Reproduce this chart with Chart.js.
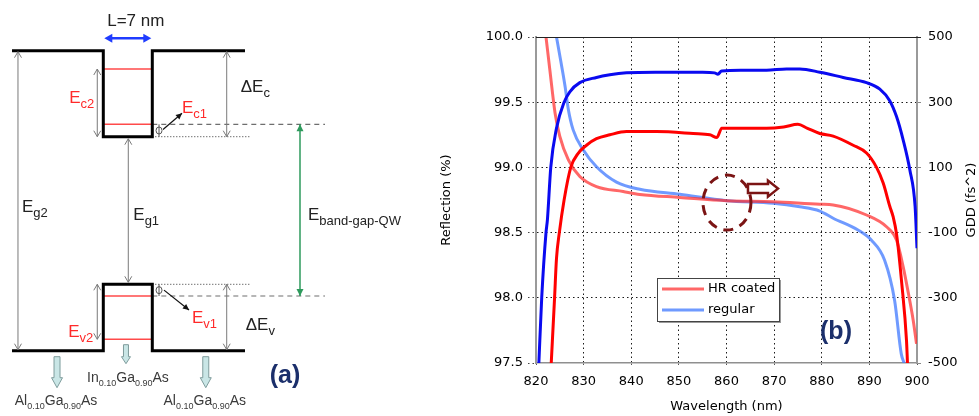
<!DOCTYPE html>
<html>
<head>
<meta charset="utf-8">
<title>Quantum well band diagram and mirror reflection / GDD</title>
<script src="https://cdn.jsdelivr.net/npm/chart.js@4.4.1/dist/chart.umd.min.js"></script>
<style>
  html, body { margin: 0; padding: 0; background: #fff; }
  #wrap { position: relative; width: 979px; height: 416px; overflow: hidden; }
  #bandChart { position: absolute; left: 0; top: 0; }
  #reflChart { position: absolute; left: 430px; top: 0; }
</style>
</head>
<body>
<div id="wrap">
  <canvas id="bandChart" width="430" height="416"></canvas>
  <canvas id="reflChart" width="549" height="416"></canvas>
</div>
<script>
// ---------------- (b) mirror data ----------------
const wlTicks = [820, 830, 840, 850, 860, 870, 880, 890, 900];
const reflTicks = [97.5, 98.0, 98.5, 99.0, 99.5, 100.0];
const gddTicks = [-500, -300, -100, 100, 300, 500];
const seriesNames = ['HR coated', 'regular'];

// reflection (%), left axis
const wlHrRefl = [823.2, 823.9, 824.3, 824.9, 825.9, 827.3, 828.9, 830.6, 832.7, 835.5,
  839, 845.3, 853, 856.5, 858, 859, 868.4, 872, 875, 877, 879.6, 882.4,
  886.6, 889.4, 891.5, 892.9, 894.3, 895.0, 895.7, 896.8, 897.8, 898.0];
const hrRefl = [97.5, 98.0, 98.3, 98.5, 98.75, 99.0, 99.11, 99.17, 99.22, 99.25,
  99.275, 99.275, 99.26, 99.25, 99.23, 99.3, 99.3, 99.31, 99.33, 99.3, 99.26, 99.24,
  99.17, 99.11, 99.0, 98.88, 98.70, 98.62, 98.49, 98.11, 97.67, 97.5];

const wlRegRefl = [820.6, 821.2, 822.1, 822.4, 823.1, 824.3, 825.9, 827.1, 829.2, 832.7,
  835.5, 839, 845, 850, 855, 857.5, 858.2, 859, 863, 868.4,
  872.6, 875.4, 879.6, 884.5, 889.4, 892.2, 894.3, 895.7, 897.1, 898.5, 899.6, 900];
const regRefl = [97.5, 98.0, 98.5, 98.6, 99.0, 99.3, 99.5, 99.58, 99.65, 99.69,
  99.71, 99.725, 99.73, 99.73, 99.73, 99.725, 99.715, 99.74, 99.745, 99.745,
  99.755, 99.755, 99.73, 99.69, 99.65, 99.6, 99.51, 99.39, 99.21, 98.98, 98.70, 98.38];

// GDD (fs^2), right axis
const wlHrGdd = [822.1, 822.9, 824.0, 825.0, 826.8, 829.2, 832.7, 838.3, 841.8, 850.2,
  860.1, 869.8, 879.6, 882.4, 889.4, 893.6, 895.7, 897.1, 898.2, 899.2, 899.9];
const hrGdd = [500, 400, 267, 195, 123, 72, 41, 26, 17, 8,
  -2, -5, -13, -15, -46, -82, -123, -205, -287, -369, -441];

const wlRegGdd = [824.3, 824.9, 826.1, 826.8, 827.8, 829.9, 832.7, 836.9, 841.8, 850.2,
  860.1, 869.8, 875.4, 879.6, 882.4, 887.6, 890.4, 893.2, 895.3, 896.7, 897.3];
const regGdd = [500, 451, 349, 277, 215, 154, 102, 55, 33, 17.5,
  -2, -10, -21, -34, -56, -92, -123, -185, -308, -472, -500];

// ---------------- (a) band diagram data ----------------
// x in nm (0 = left wall of the 7 nm well), energy in arbitrary units
const bandX = [-13.04, 0, 0, 7, 7, 20.24];
const condBand = [1500, 1500, 1070, 1070, 1500, 1500];
const valBand = [0, 0, 332, 332, 0, 0];
const levelNames = ['Ec1', 'Ec2', 'Ev1', 'Ev2'];
const levelValues = [1132, 1408.5, 273.5, 57];
const materials = ['Al0.10Ga0.90As', 'In0.10Ga0.90As', 'Al0.10Ga0.90As'];

const SANS = '"Liberation Sans", Arial, sans-serif';
const VERA = '"DejaVu Sans", Verdana, sans-serif';
const NAVY = '#1b2f6b';

const toXY = (xs, ys) => xs.map((v, i) => ({ x: v, y: ys[i] }));
const seg = (x1, x2, v) => [{ x: x1, y: v }, { x: x2, y: v }];

// arrow head, tip at (tx,ty), pointing along (ux,uy)
function head(ctx, tx, ty, ux, uy, len, half, filled) {
  const bx = tx - ux * len, by = ty - uy * len;
  const nx = -uy, ny = ux;
  ctx.beginPath();
  ctx.moveTo(bx + nx * half, by + ny * half);
  ctx.lineTo(tx, ty);
  ctx.lineTo(bx - nx * half, by - ny * half);
  if (filled) { ctx.closePath(); ctx.fill(); } else { ctx.stroke(); }
}

function vArrow(ctx, X, yA, yB, color, width, len, half, filled) {
  ctx.strokeStyle = color; ctx.fillStyle = color; ctx.lineWidth = width;
  ctx.beginPath(); ctx.moveTo(X, yA); ctx.lineTo(X, yB); ctx.stroke();
  ctx.lineWidth = 1;
  head(ctx, X, yA, 0, -1, len, half, filled);
  head(ctx, X, yB, 0, 1, len, half, filled);
}

function pointer(ctx, x1, y1, x2, y2) {
  const d = Math.hypot(x2 - x1, y2 - y1);
  ctx.strokeStyle = '#111'; ctx.fillStyle = '#111'; ctx.lineWidth = 1.2;
  ctx.beginPath(); ctx.moveTo(x1, y1); ctx.lineTo(x2, y2); ctx.stroke();
  head(ctx, x2, y2, (x2 - x1) / d, (y2 - y1) / d, 6, 3, true);
}

// text made of [string, isSubscript] parts
function rich(ctx, parts, x, y, align, color, size, subSize) {
  let w = 0;
  parts.forEach(([t, s]) => { ctx.font = (s ? subSize : size) + 'px ' + SANS; w += ctx.measureText(t).width; });
  let cx = align === 'center' ? x - w / 2 : align === 'right' ? x - w : x;
  ctx.fillStyle = color; ctx.textAlign = 'left'; ctx.textBaseline = 'alphabetic';
  parts.forEach(([t, s]) => {
    ctx.font = (s ? subSize : size) + 'px ' + SANS;
    ctx.fillText(t, cx, s ? y + Math.round(subSize * 0.4) : y);
    cx += ctx.measureText(t).width;
  });
}

function hollowDown(ctx, X, top, headTop, tip, shaftHalf, headHalf) {
  ctx.beginPath();
  ctx.moveTo(X - shaftHalf, top); ctx.lineTo(X + shaftHalf, top);
  ctx.lineTo(X + shaftHalf, headTop); ctx.lineTo(X + headHalf, headTop);
  ctx.lineTo(X, tip); ctx.lineTo(X - headHalf, headTop);
  ctx.lineTo(X - shaftHalf, headTop); ctx.closePath();
  ctx.fillStyle = '#c9e6e6'; ctx.fill();
  ctx.strokeStyle = '#7f9c9c'; ctx.lineWidth = 1; ctx.stroke();
}

function matParts(name) {
  // split "Al0.10Ga0.90As" into element / subscript parts
  return name.match(/[A-Z][a-z]?|[0-9.]+/g).map(t => [t, /[0-9]/.test(t)]);
}

const bandDecor = {
  id: 'bandDecor',
  afterDatasetsDraw(chart) {
    const { ctx, scales: { x, y } } = chart;
    const px = v => x.getPixelForValue(v), py = v => y.getPixelForValue(v);
    const cB = py(condBand[0]), cW = py(condBand[2]);
    const vB = py(valBand[0]), vW = py(valBand[2]);
    const ec1 = py(levelValues[0]), ec2 = py(levelValues[1]);
    const ev1 = py(levelValues[2]), ev2 = py(levelValues[3]);
    const wallL = px(0), wallR = px(7);
    ctx.save();

    // gray double arrows
    const gray = '#7a7a7a';
    const xEg2 = px(-12.19), xEg1 = px(3.57), xSub = px(-0.86), xDelta = px(17.63);
    vArrow(ctx, xEg2, cB + 1, vB - 1, gray, 1, 6, 3.5, false);
    vArrow(ctx, xEg1, cW + 2, vW - 2, gray, 1, 6, 3.5, false);
    vArrow(ctx, xSub, ec2, cW, gray, 1, 6, 3.5, false);
    vArrow(ctx, xSub, vW, ev2, gray, 1, 6, 3.5, false);
    vArrow(ctx, xDelta, cB + 1, cW, gray, 1, 6, 3.5, false);
    vArrow(ctx, xDelta, vW, vB - 1, gray, 1, 6, 3.5, false);

    // green effective band gap arrow
    vArrow(ctx, px(28.1), ec1, ev1, '#2e9a5c', 1.5, 7, 3.5, true);

    // blue well width arrow
    const yL = py(1562);
    ctx.strokeStyle = '#1f3cff'; ctx.fillStyle = '#1f3cff'; ctx.lineWidth = 2.5;
    ctx.beginPath(); ctx.moveTo(wallL + 5, yL); ctx.lineTo(wallR - 5, yL); ctx.stroke();
    head(ctx, wallL + 1, yL, -1, 0, 8, 4.5, true);
    head(ctx, wallR - 1, yL, 1, 0, 8, 4.5, true);

    // small phi markers
    const xPhi = px(7.96);
    ctx.strokeStyle = '#555'; ctx.lineWidth = 1;
    [[ec1, cW], [vW, ev1]].forEach(([a, b]) => {
      ctx.beginPath(); ctx.moveTo(xPhi, a); ctx.lineTo(xPhi, b); ctx.stroke();
      ctx.beginPath(); ctx.ellipse(xPhi, (a + b) / 2, 3, 3.5, 0, 0, Math.PI * 2); ctx.stroke();
    });

    // level pointers
    pointer(ctx, xPhi + 4, (ec1 + cW) / 2 - 1, xPhi + 23, ec1 - 11);
    pointer(ctx, xPhi + 5, (vW + ev1) / 2, xPhi + 30, ev1 + 14);

    // labels
    const red = '#ff2a2a', ink = '#222';
    rich(ctx, [['L=7 nm', false]], (wallL + wallR) / 2 + 8, 26, 'center', ink, 17, 12);
    rich(ctx, [['E', false], ['g2', true]], xEg2 + 4, 212, 'left', ink, 17, 13);
    rich(ctx, [['E', false], ['g1', true]], xEg1 + 5, 220, 'left', ink, 17, 13);
    rich(ctx, [['E', false], ['band-gap-QW', true]], px(28.1) + 8, 220, 'left', ink, 17, 13);
    rich(ctx, [['E', false], ['c2', true]], xSub - 3, 103, 'right', red, 17, 13);
    rich(ctx, [['E', false], ['v2', true]], xSub - 4, 337, 'right', red, 17, 13);
    rich(ctx, [['\u0394E', false], ['c', true]], xDelta + 14, 92, 'left', ink, 17, 13);
    rich(ctx, [['\u0394E', false], ['v', true]], xDelta + 19, 330, 'left', ink, 17, 13);
    rich(ctx, [['E', false], ['c1', true]], xPhi + 23, 113, 'left', red, 17, 13);
    rich(ctx, [['E', false], ['v1', true]], xPhi + 33, 323, 'left', red, 17, 13);

    // layer arrows and material names
    const xm = [px(-6.61), px(3.24), px(14.64)];
    hollowDown(ctx, xm[0], vB + 6, vB + 27, vB + 37, 3, 5.5);
    hollowDown(ctx, xm[1], vB - 6, vB + 6, vB + 13, 2.5, 4.5);
    hollowDown(ctx, xm[2], vB + 6, vB + 27, vB + 37, 3, 5.5);
    rich(ctx, matParts(materials[0]), xm[0] - 1, 405, 'center', '#3a3a3a', 14, 9);
    rich(ctx, matParts(materials[1]), xm[1] + 2, 382, 'center', '#3a3a3a', 14, 9);
    rich(ctx, matParts(materials[2]), xm[2] - 1, 405, 'center', '#3a3a3a', 14, 9);

    // panel tag
    ctx.font = 'bold 25px ' + SANS; ctx.fillStyle = NAVY;
    ctx.textAlign = 'center'; ctx.textBaseline = 'middle';
    ctx.fillText('(a)', 285, 376);
    ctx.restore();
  }
};

const lineDs = (data, color, width, dash) => ({
  data, showLine: true, borderColor: color, borderWidth: width,
  borderDash: dash || [], pointRadius: 0, borderJoinStyle: 'miter', fill: false
});

new Chart(document.getElementById('bandChart'), {
  type: 'scatter',
  data: {
    datasets: [
      lineDs(toXY(bandX, condBand), '#000', 3),
      lineDs(toXY(bandX, valBand), '#000', 3),
      lineDs(seg(0, 7, levelValues[0]), '#ff4a4a', 1.5),
      lineDs(seg(0, 7, levelValues[1]), '#ff4a4a', 1.5),
      lineDs(seg(0, 7, levelValues[2]), '#ff4a4a', 1.5),
      lineDs(seg(0, 7, levelValues[3]), '#ff4a4a', 1.5),
      lineDs(seg(7, 31.67, levelValues[0]), '#6e6e6e', 1.2, [5, 4]),
      lineDs(seg(7, 31.67, levelValues[2]), '#6e6e6e', 1.2, [5, 4]),
      lineDs(seg(7, 20.96, condBand[2]), '#333', 1, [1, 2]),
      lineDs(seg(7, 20.96, valBand[2]), '#333', 1, [1, 2])
    ]
  },
  options: {
    responsive: false,
    animation: false,
    layout: { padding: 0 },
    plugins: { legend: { display: false }, tooltip: { enabled: false } },
    scales: {
      x: { type: 'linear', display: false, min: -14.757, max: 46.671 },
      y: { type: 'linear', display: false, min: -326.5, max: 1753.5 }
    }
  },
  plugins: [bandDecor]
});

// ---------------- (b) chart ----------------
const reflDecor = {
  id: 'reflDecor',
  afterDraw(chart) {
    const { ctx, chartArea: a, scales: { x, y } } = chart;
    ctx.save();
    // top frame
    ctx.strokeStyle = '#222'; ctx.lineWidth = 1;
    ctx.beginPath(); ctx.moveTo(a.left, a.top + 0.5); ctx.lineTo(a.right + 4, a.top + 0.5); ctx.stroke();

    // right axis title, reading bottom to top
    ctx.save();
    ctx.translate(chart.width - 7, (a.top + a.bottom) / 2);
    ctx.rotate(-Math.PI / 2);
    ctx.font = '13px ' + VERA; ctx.fillStyle = '#000';
    ctx.textAlign = 'center'; ctx.textBaseline = 'middle';
    ctx.fillText('GDD (fs^2)', 0, 0);
    ctx.restore();

    // dashed circle where the GDD curves cross, and hollow arrow to the right axis
    const cx = x.getPixelForValue(860.1), cy = y.getPixelForValue(98.73);
    const dark = '#7b1414';
    ctx.strokeStyle = dark; ctx.lineWidth = 3; ctx.setLineDash([10, 7]);
    ctx.beginPath(); ctx.ellipse(cx, cy, 24, 27.5, 0, 0, Math.PI * 2); ctx.stroke();
    ctx.setLineDash([]);
    const ay = cy - 14, ax = cx + 21;
    ctx.beginPath();
    ctx.moveTo(ax, ay - 4.5); ctx.lineTo(ax + 20, ay - 4.5); ctx.lineTo(ax + 20, ay - 8);
    ctx.lineTo(ax + 30, ay); ctx.lineTo(ax + 20, ay + 8); ctx.lineTo(ax + 20, ay + 4.5);
    ctx.lineTo(ax, ay + 4.5); ctx.closePath();
    ctx.fillStyle = '#fff'; ctx.fill();
    ctx.lineWidth = 2.5; ctx.strokeStyle = dark; ctx.stroke();

    // legend box
    const lx = 227, ly = 278, lw = 122, lh = 43;
    ctx.fillStyle = '#9a9a9a'; ctx.fillRect(lx + 2, ly + 2, lw, lh);
    ctx.fillStyle = '#fff'; ctx.fillRect(lx, ly, lw, lh);
    ctx.strokeStyle = '#444'; ctx.lineWidth = 1; ctx.strokeRect(lx + 0.5, ly + 0.5, lw, lh);
    const legendColors = [chart.data.datasets[2].borderColor, chart.data.datasets[3].borderColor];
    ctx.font = '13px ' + VERA; ctx.textAlign = 'left'; ctx.textBaseline = 'middle';
    seriesNames.forEach((name, i) => {
      const yy = ly + 11 + i * 21;
      ctx.strokeStyle = legendColors[i]; ctx.lineWidth = 3;
      ctx.beginPath(); ctx.moveTo(lx + 5, yy); ctx.lineTo(lx + 47, yy); ctx.stroke();
      ctx.fillStyle = '#000'; ctx.fillText(name, lx + 51, yy);
    });

    // panel tag
    ctx.font = 'bold 25px ' + SANS; ctx.fillStyle = NAVY;
    ctx.textAlign = 'center'; ctx.textBaseline = 'middle';
    ctx.fillText('(b)', 406, 332);
    ctx.restore();
  }
};

const edgeHidden = (lo, hi, color) => c => (c.tick && (c.tick.value === lo || c.tick.value === hi)) ? 'rgba(0,0,0,0)' : color;

new Chart(document.getElementById('reflChart'), {
  type: 'line',
  data: {
    datasets: [
      { label: seriesNames[0] + ' reflection', data: toXY(wlHrRefl, hrRefl), borderColor: '#ff0000', borderWidth: 3, yAxisID: 'y' },
      { label: seriesNames[1] + ' reflection', data: toXY(wlRegRefl, regRefl), borderColor: '#0a0af0', borderWidth: 3, yAxisID: 'y' },
      { label: seriesNames[0] + ' GDD', data: toXY(wlHrGdd, hrGdd), borderColor: 'rgba(255,45,45,0.72)', borderWidth: 3, yAxisID: 'y1' },
      { label: seriesNames[1] + ' GDD', data: toXY(wlRegGdd, regGdd), borderColor: 'rgba(70,125,255,0.78)', borderWidth: 3, yAxisID: 'y1' }
    ]
  },
  options: {
    responsive: false,
    animation: false,
    layout: { padding: { top: 37, left: 0, right: 0, bottom: 0 } },
    elements: {
      point: { radius: 0 },
      line: { cubicInterpolationMode: 'monotone', fill: false }
    },
    plugins: { legend: { display: false }, tooltip: { enabled: false } },
    scales: {
      x: {
        type: 'linear', min: 820, max: 900,
        afterBuildTicks: s => { s.ticks = wlTicks.map(v => ({ value: v })); },
        afterFit: s => { s.height = 53; },
        ticks: { color: '#000', font: { family: VERA, size: 13 }, padding: 6, autoSkip: false, maxRotation: 0 },
        grid: { color: edgeHidden(820, 900, '#1a1a1a'), lineWidth: 1, tickLength: 5, tickColor: '#555', tickBorderDash: [1.5, 3] },
        border: { display: true, color: '#8f8f8f', width: 1.5, dash: [1.5, 3] },
        title: { display: true, text: 'Wavelength (nm)', color: '#000', font: { family: VERA, size: 13 }, padding: { top: 0, bottom: 2 } }
      },
      y: {
        type: 'linear', position: 'left', min: 97.5, max: 100,
        afterBuildTicks: s => { s.ticks = reflTicks.map(v => ({ value: v })); },
        afterFit: s => { s.width = 106; },
        ticks: { color: '#000', font: { family: VERA, size: 13 }, padding: 5, callback: v => v.toFixed(1) },
        grid: { color: edgeHidden(97.5, 100, '#1a1a1a'), lineWidth: 1, tickLength: 8, tickColor: '#444', tickBorderDash: [1.5, 3] },
        border: { display: true, color: '#9a9a9a', width: 2, dash: [1.5, 3] },
        title: { display: true, text: 'Reflection (%)', color: '#000', font: { family: VERA, size: 13 }, padding: { top: 9, bottom: 0 } }
      },
      y1: {
        type: 'linear', position: 'right', min: -500, max: 500,
        afterBuildTicks: s => { s.ticks = gddTicks.map(v => ({ value: v })); },
        afterFit: s => { s.width = 62; },
        ticks: { color: '#000', font: { family: VERA, size: 13 }, padding: 7, callback: v => String(v) },
        grid: { drawOnChartArea: false, tickLength: 4, tickColor: '#888' },
        border: { display: true, color: '#9a9a9a', width: 2 },
        title: { display: false }
      }
    }
  },
  plugins: [reflDecor]
});
</script>
</body>
</html>
